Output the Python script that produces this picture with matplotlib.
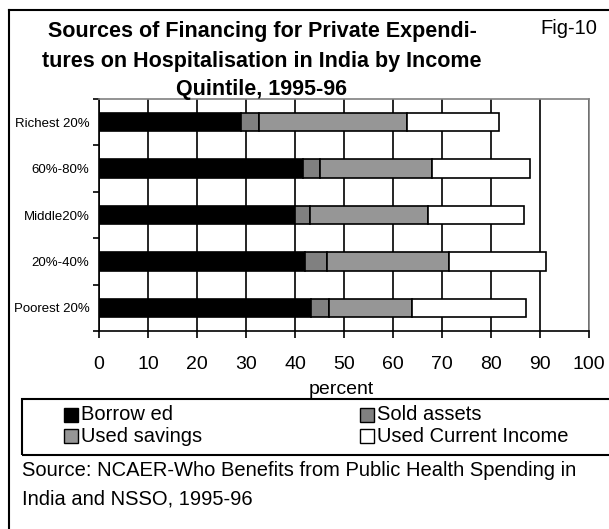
import matplotlib
matplotlib.use("Agg")
import matplotlib.pyplot as plt
from matplotlib.lines import Line2D

plt.rcParams['font.family'] = ['Liberation Sans', 'DejaVu Sans']

# quintiles, top to bottom as in the chart
groups = ["Richest 20%", "60%-80%", "Middle20%", "20%-40%", "Poorest 20%"]
borrowed = [29.0, 41.6, 40.0, 42.1, 43.2]
sold_assets = [3.7, 3.4, 3.0, 4.5, 3.8]
used_savings = [30.1, 22.9, 24.1, 24.8, 16.9]
current_income = [18.9, 20.1, 19.7, 19.9, 23.3]

series = [
    ("Borrow ed", borrowed, "#000000"),
    ("Sold assets", sold_assets, "#808080"),
    ("Used savings", used_savings, "#969696"),
    ("Used Current Income", current_income, "#ffffff"),
]

W, H = 609, 529
fig = plt.figure(figsize=(W / 100, H / 100), dpi=100)

def fx(px):
    return px / W

def fy(px):
    return 1 - px / H

# outer frame (only left and top edges show)
fig.add_artist(Line2D([fx(9), fx(9)], [0, fy(10)], color="black", lw=1.5))
fig.add_artist(Line2D([fx(9), 1], [fy(10), fy(10)], color="black", lw=1.5))

ax = fig.add_axes([fx(99), fy(331), 490 / W, 232 / H])

y = list(range(len(groups)))
left = [0] * len(groups)
for name, vals, col in series:
    ax.barh(y, vals, left=left, height=0.4, color=col, edgecolor="black", lw=1.2, zorder=3)
    left = [a + b for a, b in zip(left, vals)]

ax.set_xlim(0, 100)
ax.set_ylim(len(groups) - 0.5, -0.5)
ax.set_xticks(range(0, 101, 10))
ax.tick_params(axis="x", labelsize=14, length=5, width=1.2, direction="out", pad=13)
ax.set_yticks(y)
ax.set_yticklabels(groups, fontsize=9.5)
ax.tick_params(axis="y", length=0, pad=7)
# small ticks at category boundaries
ax.set_yticks([i - 0.5 for i in range(len(groups) + 1)], minor=True)
ax.tick_params(axis="y", which="minor", length=4, width=1.2, direction="out")
ax.grid(axis="x", color="black", lw=1.2, zorder=0)
for s in ["top", "right"]:
    ax.spines[s].set_color("#808080")
    ax.spines[s].set_linewidth(1.2)
for s in ["left", "bottom"]:
    ax.spines[s].set_color("black")
    ax.spines[s].set_linewidth(1.2)
ax.set_xlabel("percent", fontsize=14)
ax.xaxis.label.set_va("center")
ax.xaxis.set_label_coords(0.495, (331 - 389) / 232)

title_lines = ["Sources of Financing for Private Expendi-",
               "tures on Hospitalisation in India by Income",
               "Quintile, 1995-96"]
for line, ypx in zip(title_lines, [32, 62, 90]):
    fig.text(fx(262), fy(ypx), line, ha="center", va="center",
             fontsize=15.5, fontweight="bold")
fig.text(fx(597), fy(28), "Fig-10", ha="right", va="center", fontsize=14.5)

# legend box
fig.add_artist(plt.Rectangle((fx(22), fy(455)), 1, 56 / H, fill=False,
                             ec="black", lw=1.5, transform=fig.transFigure))
legend_pos = {0: (64, 415), 2: (64, 436), 1: (360, 415), 3: (360, 436)}
for i, (name, vals, col) in enumerate(series):
    xp, yp = legend_pos[i]
    fig.add_artist(plt.Rectangle((fx(xp), fy(yp + 7)), 14 / W, 14 / H, fc=col,
                                 ec="black", lw=1, transform=fig.transFigure))
    fig.text(fx(xp + 17), fy(yp), name, ha="left", va="center", fontsize=14.5)

fig.text(fx(22), fy(470), "Source: NCAER-Who Benefits from Public Health Spending in",
         ha="left", va="center", fontsize=14.5)
fig.text(fx(22), fy(499), "India and NSSO, 1995-96",
         ha="left", va="center", fontsize=14.5)

fig.savefig("out.png", dpi=100)
